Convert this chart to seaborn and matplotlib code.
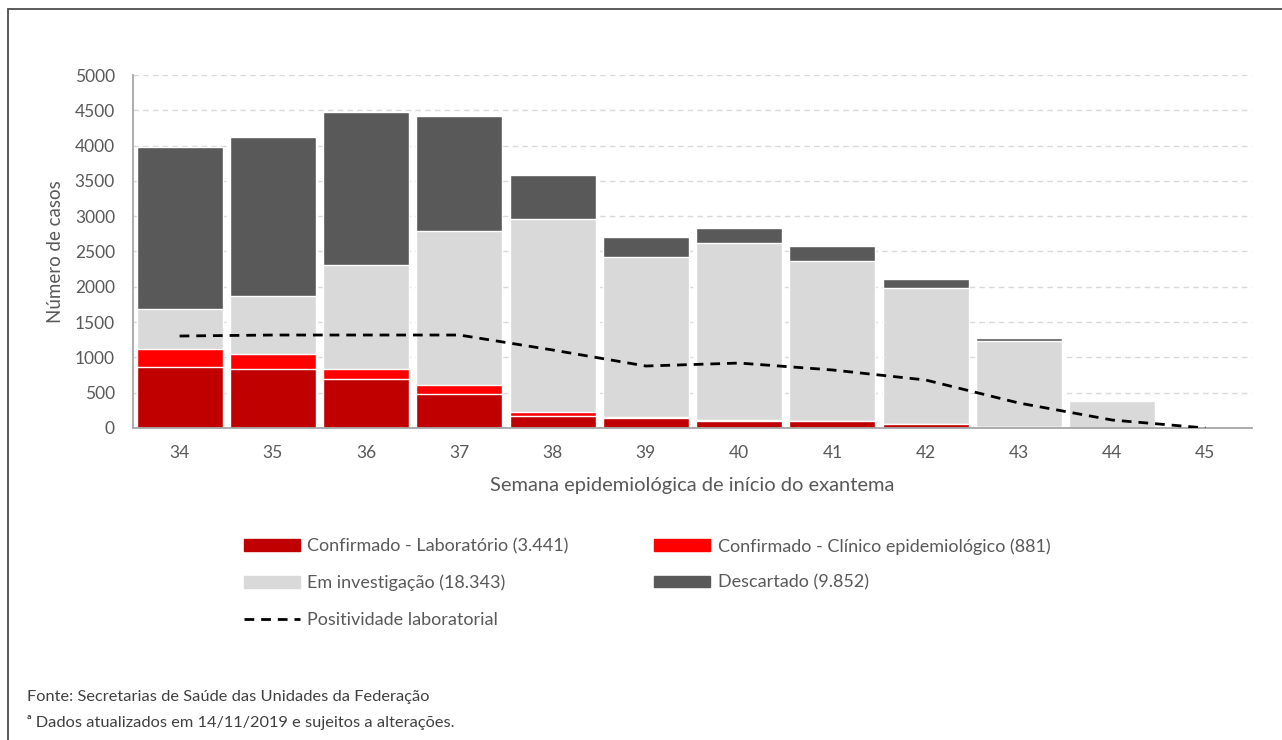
import numpy as np
import pandas as pd
import matplotlib
matplotlib.use("Agg")
import matplotlib.pyplot as plt
from matplotlib.patches import Patch, Rectangle
from matplotlib.lines import Line2D
import seaborn as sns

# data
semanas = ['34', '35', '36', '37', '38', '39', '40', '41', '42', '43', '44', '45']
laboratorio = [865, 835, 690, 475, 165, 145, 105, 100, 50, 11, 0, 0]
clinico = [255, 218, 150, 137, 65, 10, 15, 6, 5, 0, 0, 0]
investigacao = [566, 822, 1473, 2181, 2733, 2267, 2500, 2254, 1924, 1226, 382, 0]
descartado = [2299, 2252, 2167, 1629, 624, 283, 213, 213, 127, 33, 0, 0]
positividade = [1303, 1317, 1317, 1317, 1105, 878, 920, 822, 680, 354, 113, 0]

legend_labels = ['Confirmado - Laboratório (3.441)', 'Confirmado - Clínico epidemiológico (881)',
                 'Em investigação (18.343)', 'Descartado (9.852)', 'Positividade laboratorial']

c_lab, c_clin, c_inv, c_desc = '#C00000', '#FF0000', '#D9D9D9', '#595959'
txt = '#595959'

df = pd.DataFrame({'semana': semanas, 'lab': laboratorio, 'clin': clinico,
                   'inv': investigacao, 'desc': descartado})
# cumulative tops for stacking
df['top_clin'] = df['lab'] + df['clin']
df['top_inv'] = df['top_clin'] + df['inv']
df['top_desc'] = df['top_inv'] + df['desc']

sns.set_style('white')
plt.rcParams['font.family'] = ['Lato', 'DejaVu Sans']

fig = plt.figure(figsize=(12.82, 7.40), dpi=100)
ax = fig.add_axes([133/1282, 1 - 428/740, (1252 - 133)/1282, (428 - 75)/740])

for col, color in [('top_desc', c_desc), ('top_inv', c_inv), ('top_clin', c_clin), ('lab', c_lab)]:
    sns.barplot(data=df, x='semana', y=col, color=color, width=0.92, saturation=1,
                ax=ax, zorder=2)

sns.lineplot(x=np.arange(len(semanas)), y=positividade, ax=ax, color='black',
             linewidth=2, zorder=3)
ax.lines[-1].set_dashes((3.5, 2.5))

ax.set_xlim(-0.5, len(semanas) - 0.5)
ax.set_ylim(0, 5000)
ax.set_yticks(np.arange(0, 5001, 500))
ax.yaxis.grid(True, color='#D9D9D9', linestyle=(0, (4, 3)), linewidth=1, zorder=0)
ax.set_axisbelow(True)

ax.set_xticks(np.arange(-0.5, len(semanas)), minor=True)
ax.tick_params(axis='x', which='major', length=0, pad=12, labelsize=12.5, labelcolor=txt)
ax.tick_params(axis='x', which='minor', direction='in', length=5, color='#A6A6A6', width=1)
ax.tick_params(axis='y', direction='in', length=4, color='#A6A6A6', width=1,
               pad=13, labelsize=12.5, labelcolor=txt)

for s in ['top', 'right']:
    ax.spines[s].set_visible(False)
for s in ['left', 'bottom']:
    ax.spines[s].set_color('#A6A6A6')
    ax.spines[s].set_linewidth(1.3)

ax.set_xlabel('Semana epidemiológica de início do exantema', fontsize=14.5, color=txt, labelpad=12)
ax.set_ylabel('Número de casos', fontsize=13.5, color=txt, labelpad=8)

handles = [Patch(color=c_lab), Patch(color=c_inv),
           Line2D([], [], color='black', linewidth=2, dashes=(3.5, 2.5)),
           Patch(color=c_clin), Patch(color=c_desc)]
labels = [legend_labels[0], legend_labels[2], legend_labels[4], legend_labels[1], legend_labels[3]]
fig.legend(handles, labels, ncol=2, loc='upper left', bbox_to_anchor=(244/1282, 1 - 538/740),
           frameon=False, fontsize=13, labelcolor=txt, handlelength=3.1, handleheight=0.6,
           handletextpad=0.4, labelspacing=1.12, columnspacing=4.75, borderpad=0, borderaxespad=0)

fig.text(27/1282, 1 - 697/740, 'Fonte: Secretarias de Saúde das Unidades da Federação',
         fontsize=11.8, color='#404040', va='center', ha='left')
fig.text(27/1282, 1 - 723/740, 'ᵃ Dados atualizados em 14/11/2019 e sujeitos a alterações.',
         fontsize=11.8, color='#404040', va='center', ha='left')

fig.patches.append(Rectangle((8/1282, -0.1), 1.2, 1 - 9/740 + 0.1, transform=fig.transFigure,
                             fill=False, edgecolor='#4D4D4D', linewidth=1.3))

fig.savefig('out.png', dpi=100)
